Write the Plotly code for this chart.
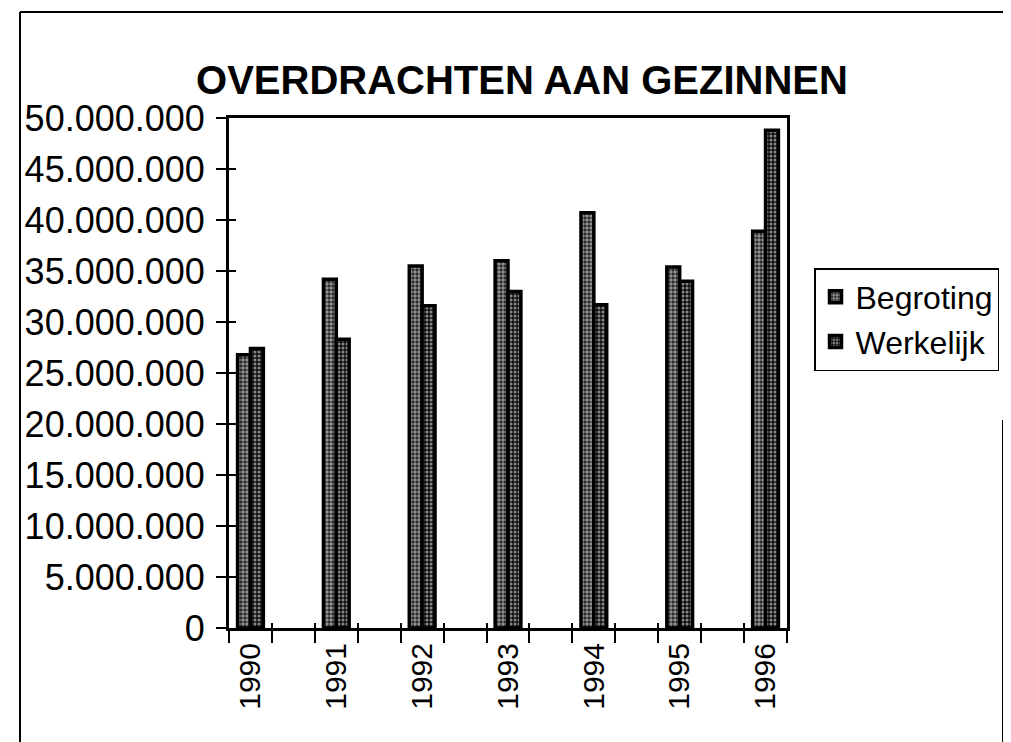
import plotly.graph_objects as go

years = ["1990", "1991", "1992", "1993", "1994", "1995", "1996"]
begroting = [26_800_000, 34_200_000, 35_500_000, 36_000_000, 40_700_000, 35_400_000, 38_900_000]
werkelijk = [27_400_000, 28_300_000, 31_600_000, 33_000_000, 31_700_000, 34_000_000, 48_800_000]
y_ticks = [0, 5_000_000, 10_000_000, 15_000_000, 20_000_000, 25_000_000,
           30_000_000, 35_000_000, 40_000_000, 45_000_000, 50_000_000]

xpos = [2 * i for i in range(len(years))]
ylabels = ["{:,}".format(v).replace(",", ".") for v in y_ticks]

# page has an 8px body margin; work in reference-pixel coordinates and shift
OFF = 8
W, H = 1011 - OFF, 742 - OFF
L, R, T, B = 229 - OFF, 1011 - 787, 118 - OFF, 742 - 628
pw, ph = W - L - R, H - T - B

def px(x):
    return (x - OFF - L) / pw

def py(y):
    return (H - B - (y - OFF)) / ph

fig = go.Figure()
fig.add_trace(go.Bar(
    x=xpos, y=begroting, name="Begroting", width=0.3, offset=-0.3,
    marker=dict(color="#222222", line=dict(color="black", width=3.5),
                pattern=dict(shape=".", fgcolor="white", bgcolor="#222222",
                             size=4, solidity=0.6)),
))
fig.add_trace(go.Bar(
    x=xpos, y=werkelijk, name="Werkelijk", width=0.3, offset=0.0,
    marker=dict(color="#111111", line=dict(color="black", width=3.5),
                pattern=dict(shape=".", fgcolor="white", bgcolor="#111111",
                             size=4, solidity=0.45)),
))
# invisible helper trace to activate overlay axes for crossing ticks
fig.add_trace(go.Scatter(x=[xpos[0]], y=[0], xaxis="x2", yaxis="y2",
                         mode="markers", marker=dict(opacity=0),
                         showlegend=False, hoverinfo="skip"))

font = "Liberation Sans, Arial, sans-serif"
xmin, xmax = -0.5, xpos[-1] + 0.5
bounds = [xmin + k for k in range(int(xmax - xmin) + 1)]

fig.update_layout(
    width=W, height=H,
    margin=dict(l=L, r=R, t=T, b=B, autoexpand=False),
    paper_bgcolor="white", plot_bgcolor="white",
    barmode="overlay",
    font=dict(family=font, color="black"),
    title=dict(text="<b>OVERDRACHTEN AAN GEZINNEN</b>",
               font=dict(size=40, family=font, color="black"),
               x=(522 - OFF) / W, xanchor="center", xref="container",
               y=1 - (80 - OFF) / H, yanchor="middle", yref="container"),
    xaxis=dict(range=[xmin, xmax], tickmode="array", tickvals=xpos, ticktext=years,
               tickangle=-90, tickfont=dict(size=30), ticks="outside", ticklen=0,
               showline=True, linecolor="black", linewidth=3, mirror=True,
               showgrid=False, zeroline=False,
               minor=dict(tickmode="array", tickvals=bounds, ticks="outside",
                          ticklen=12, tickwidth=2, tickcolor="black")),
    yaxis=dict(range=[0, 50_000_000], tickmode="array", tickvals=y_ticks, ticktext=ylabels,
               tickfont=dict(size=36), ticks="outside", ticklen=10, tickwidth=2,
               tickcolor="black", ticklabelstandoff=4,
               showline=True, linecolor="black", linewidth=3, mirror=True,
               showgrid=False, zeroline=False),
    xaxis2=dict(overlaying="x", range=[xmin, xmax], tickmode="array", tickvals=bounds,
                ticks="inside", ticklen=5, tickwidth=2, tickcolor="black",
                showticklabels=False, showline=False, showgrid=False, zeroline=False,
                side="bottom"),
    yaxis2=dict(overlaying="y", range=[0, 50_000_000], tickmode="array", tickvals=y_ticks,
                ticks="inside", ticklen=7, tickwidth=2, tickcolor="black",
                showticklabels=False, showline=False, showgrid=False, zeroline=False,
                side="left"),
    legend=dict(x=px(814), y=py(268), xanchor="left", yanchor="top",
                font=dict(size=32, family=font), bordercolor="black", borderwidth=1.5,
                bgcolor="white", itemwidth=30, tracegroupgap=4),
    shapes=[
        dict(type="line", xref="paper", yref="paper", x0=px(20), x1=px(1011),
             y0=py(12), y1=py(12), line=dict(color="black", width=2)),
        dict(type="line", xref="paper", yref="paper", x0=px(20), x1=px(20),
             y0=py(12), y1=py(745), line=dict(color="black", width=2)),
        dict(type="line", xref="paper", yref="paper", x0=px(1003), x1=px(1003),
             y0=py(420), y1=py(745), line=dict(color="black", width=2)),
    ],
)

fig.write_html("out.html")
